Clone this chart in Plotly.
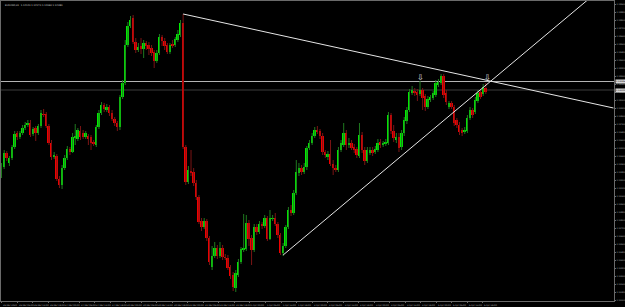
import plotly.graph_objects as go

opens = [1.1125,1.1133,1.1147,1.1137,1.1142,1.1153,1.1167,1.1163,1.1167,1.1172,
         1.1175,1.1177,1.1166,1.1172,1.1167,1.1174,1.1186,1.1186,1.1174,1.1157,
         1.1143,1.1144,1.1121,1.1115,1.1132,1.1142,1.1151,1.1148,1.1162,1.1161,
         1.1169,1.1167,1.1163,1.1164,1.1163,1.1158,1.1155,1.1173,1.1187,1.1195,
         1.1190,1.1193,1.1187,1.1181,1.1177,1.1173,1.1203,1.1217,1.1255,1.1274,
         1.1282,1.1258,1.1250,1.1254,1.1251,1.1257,1.1255,1.1252,1.1248,1.1239,
         1.1247,1.1263,1.1259,1.1255,1.1248,1.1256,1.1255,1.1260,1.1265,1.1277,
         1.1153,1.1118,1.1129,1.1128,1.1117,1.1103,1.1079,1.1073,1.1079,1.1062,
         1.1033,1.1044,1.1052,1.1044,1.1052,1.1043,1.1042,1.1033,1.1025,1.1012,
         1.1025,1.1038,1.1050,1.1051,1.1077,1.1062,1.1050,1.1073,1.1068,1.1076,
         1.1074,1.1082,1.1061,1.1081,1.1082,1.1076,1.1065,1.1047,1.1054,1.1073,
         1.1090,1.1087,1.1107,1.1127,1.1132,1.1128,1.1133,1.1152,1.1157,1.1164,
         1.1170,1.1169,1.1164,1.1148,1.1143,1.1146,1.1136,1.1132,1.1130,1.1150,
         1.1155,1.1167,1.1155,1.1157,1.1153,1.1151,1.1144,1.1165,1.1150,1.1139,
         1.1147,1.1150,1.1148,1.1150,1.1158,1.1155,1.1156,1.1157,1.1185,1.1169,
         1.1160,1.1163,1.1153,1.1167,1.1179,1.1190,1.1207,1.1209,1.1208,1.1206,
         1.1210,1.1204,1.1193,1.1200,1.1202,1.1205,1.1215,1.1217,1.1224,1.1207,
         1.1193,1.1197,1.1193,1.1180,1.1175,1.1170,1.1168,1.1169,1.1182,1.1190,
         1.1188,1.1199,1.1208,1.1206,1.1212]
highs = [1.1137,1.1150,1.1149,1.1144,1.1155,1.1169,1.1169,1.1169,1.1175,1.1178,
         1.1180,1.1180,1.1173,1.1174,1.1176,1.1190,1.1191,1.1188,1.1176,1.1160,
         1.1148,1.1146,1.1124,1.1135,1.1145,1.1154,1.1153,1.1167,1.1176,1.1172,
         1.1174,1.1170,1.1169,1.1166,1.1165,1.1160,1.1175,1.1190,1.1198,1.1197,
         1.1196,1.1195,1.1190,1.1183,1.1179,1.1205,1.1220,1.1260,1.1278,1.1284,
         1.1285,1.1262,1.1257,1.1262,1.1260,1.1259,1.1258,1.1255,1.1250,1.1250,
         1.1266,1.1265,1.1262,1.1257,1.1257,1.1260,1.1263,1.1270,1.1280,1.1286,
         1.1155,1.1134,1.1150,1.1132,1.1120,1.1105,1.1082,1.1082,1.1081,1.1064,
         1.1054,1.1058,1.1055,1.1058,1.1055,1.1046,1.1045,1.1035,1.1028,1.1030,
         1.1041,1.1053,1.1086,1.1085,1.1080,1.1065,1.1076,1.1076,1.1079,1.1078,
         1.1085,1.1084,1.1090,1.1085,1.1087,1.1078,1.1067,1.1057,1.1075,1.1093,
         1.1095,1.1110,1.1140,1.1137,1.1135,1.1137,1.1154,1.1160,1.1167,1.1173,
         1.1174,1.1171,1.1167,1.1150,1.1149,1.1160,1.1140,1.1135,1.1153,1.1160,
         1.1177,1.1170,1.1162,1.1160,1.1156,1.1153,1.1177,1.1168,1.1153,1.1153,
         1.1153,1.1153,1.1154,1.1161,1.1161,1.1159,1.1161,1.1188,1.1187,1.1175,
         1.1167,1.1167,1.1170,1.1183,1.1193,1.1211,1.1214,1.1212,1.1211,1.1219,
         1.1212,1.1206,1.1204,1.1205,1.1209,1.1220,1.1221,1.1226,1.1226,1.1210,
         1.1199,1.1199,1.1195,1.1182,1.1178,1.1172,1.1173,1.1185,1.1193,1.1192,
         1.1203,1.1210,1.1211,1.1216,1.1217]
lows = [1.1122,1.1131,1.1139,1.1134,1.1140,1.1151,1.1160,1.1161,1.1165,1.1170,
        1.1173,1.1163,1.1164,1.1159,1.1165,1.1172,1.1183,1.1172,1.1155,1.1140,
        1.1141,1.1119,1.1112,1.1111,1.1130,1.1140,1.1145,1.1147,1.1155,1.1159,
        1.1160,1.1161,1.1161,1.1155,1.1150,1.1154,1.1153,1.1171,1.1185,1.1188,
        1.1188,1.1184,1.1179,1.1174,1.1169,1.1170,1.1201,1.1215,1.1253,1.1272,
        1.1256,1.1247,1.1248,1.1246,1.1242,1.1250,1.1245,1.1244,1.1232,1.1237,
        1.1245,1.1254,1.1250,1.1246,1.1246,1.1252,1.1253,1.1258,1.1263,1.1151,
        1.1115,1.1116,1.1124,1.1114,1.1100,1.1076,1.1069,1.1071,1.1059,1.1035,
        1.1030,1.1042,1.1041,1.1042,1.1040,1.1040,1.1030,1.1021,1.1009,1.1008,
        1.1023,1.1036,1.1048,1.1049,1.1054,1.1035,1.1048,1.1065,1.1066,1.1071,
        1.1072,1.1059,1.1060,1.1079,1.1074,1.1062,1.1045,1.1044,1.1052,1.1071,
        1.1084,1.1085,1.1105,1.1124,1.1125,1.1126,1.1130,1.1150,1.1155,1.1162,
        1.1166,1.1161,1.1145,1.1142,1.1140,1.1134,1.1125,1.1128,1.1128,1.1148,
        1.1153,1.1150,1.1152,1.1150,1.1147,1.1142,1.1142,1.1147,1.1135,1.1137,
        1.1145,1.1144,1.1146,1.1148,1.1152,1.1153,1.1154,1.1155,1.1166,1.1158,
        1.1157,1.1148,1.1150,1.1164,1.1176,1.1188,1.1205,1.1204,1.1199,1.1204,
        1.1190,1.1189,1.1191,1.1198,1.1200,1.1203,1.1213,1.1215,1.1202,1.1195,
        1.1191,1.1191,1.1174,1.1172,1.1165,1.1164,1.1166,1.1167,1.1180,1.1182,
        1.1186,1.1197,1.1201,1.1204,1.1206]
closes = [1.1133,1.1147,1.1142,1.1142,1.1153,1.1166,1.1163,1.1167,1.1172,1.1175,
          1.1177,1.1165,1.1171,1.1167,1.1174,1.1187,1.1185,1.1174,1.1157,1.1143,
          1.1145,1.1121,1.1115,1.1132,1.1142,1.1151,1.1148,1.1163,1.1164,1.1170,
          1.1163,1.1163,1.1167,1.1161,1.1157,1.1156,1.1173,1.1187,1.1195,1.1191,
          1.1193,1.1187,1.1181,1.1177,1.1173,1.1203,1.1217,1.1255,1.1274,1.1280,
          1.1258,1.1250,1.1253,1.1251,1.1257,1.1254,1.1251,1.1247,1.1239,1.1247,
          1.1263,1.1259,1.1254,1.1248,1.1255,1.1254,1.1261,1.1266,1.1277,1.1153,
          1.1118,1.1130,1.1127,1.1117,1.1103,1.1078,1.1073,1.1079,1.1062,1.1038,
          1.1044,1.1052,1.1044,1.1052,1.1043,1.1042,1.1032,1.1024,1.1013,1.1027,
          1.1038,1.1051,1.1052,1.1077,1.1061,1.1050,1.1073,1.1068,1.1076,1.1074,
          1.1082,1.1061,1.1082,1.1082,1.1076,1.1065,1.1047,1.1054,1.1073,1.1090,
          1.1087,1.1107,1.1128,1.1132,1.1128,1.1133,1.1152,1.1157,1.1164,1.1170,
          1.1168,1.1164,1.1148,1.1145,1.1146,1.1136,1.1132,1.1130,1.1150,1.1157,
          1.1167,1.1155,1.1157,1.1152,1.1150,1.1145,1.1165,1.1150,1.1139,1.1150,
          1.1150,1.1147,1.1151,1.1157,1.1155,1.1157,1.1158,1.1185,1.1169,1.1162,
          1.1163,1.1152,1.1167,1.1180,1.1190,1.1208,1.1210,1.1207,1.1205,1.1210,
          1.1202,1.1193,1.1201,1.1203,1.1207,1.1217,1.1218,1.1224,1.1205,1.1198,
          1.1197,1.1193,1.1177,1.1175,1.1168,1.1167,1.1170,1.1182,1.1190,1.1185,
          1.1200,1.1207,1.1203,1.1213,1.1208]

time_labels = ["26 Mar 2020", "26 Mar 06:00", "26 Mar 12:00", "26 Mar 18:00",
               "27 Mar 00:00", "27 Mar 06:00", "27 Mar 12:00", "27 Mar 18:00",
               "30 Mar 00:00", "30 Mar 06:00", "30 Mar 12:00", "30 Mar 18:00",
               "31 Mar 00:00", "31 Mar 06:00", "31 Mar 12:00", "31 Mar 18:00",
               "1 Apr 00:00", "1 Apr 06:00", "1 Apr 12:00", "1 Apr 18:00",
               "2 Apr 00:00", "2 Apr 06:00", "2 Apr 12:00", "2 Apr 18:00",
               "3 Apr 00:00", "3 Apr 06:00", "3 Apr 12:00", "3 Apr 18:00",
               "6 Apr 00:00", "6 Apr 06:00", "6 Apr 12:00", "6 Apr 18:00"]

price_labels = ["1.12960", "1.12880", "1.12800", "1.12720", "1.12640", "1.12560",
                "1.12480", "1.12400", "1.12320", "1.12240", "1.12160", "1.12080",
                "1.12000", "1.11920", "1.11840", "1.11760", "1.11680", "1.11600",
                "1.11520", "1.11440", "1.11360", "1.11280", "1.11200", "1.11120",
                "1.11040", "1.10960", "1.10880", "1.10800", "1.10720", "1.10640",
                "1.10560", "1.10480", "1.10400", "1.10320", "1.10240", "1.10160",
                "1.10080", "1.10000"]

# horizontal price lines (object line, ask line)
hline_prices = [1.12185, 1.12100]
hline_colors = ["#b4b4b4", "#3c3c3c"]
# trend lines: two anchor points each (bar index, price)
trend1_x = [69, 232.5]
trend1_y = [1.1286, 1.1192]
trend2_x = [107, 235]
trend2_y = [1.1045, 1.13272]
# arrow objects
arrow_x = [159, 184.7]
arrow_y = [1.1223, 1.1223]

n = len(opens)
idx = list(range(n))

fig = go.Figure()

# wicks
for up, col in ((True, "#1f7a1f"), (False, "#7a1414")):
    wx, wy = [], []
    for i in idx:
        if (closes[i] >= opens[i]) == up:
            wx += [i, i, None]
            wy += [lows[i], highs[i], None]
    fig.add_trace(go.Scatter(x=wx, y=wy, mode="lines",
                             line=dict(color=col, width=1),
                             hoverinfo="skip", showlegend=False))

# bodies
bases = [min(o, c) for o, c in zip(opens, closes)]
heights = [max(abs(c - o), 0.00005) for o, c in zip(opens, closes)]
cols = ["#00ec00" if c >= o else "#f00000" for o, c in zip(opens, closes)]
fig.add_trace(go.Bar(x=idx, y=heights, base=bases, width=0.72,
                     marker=dict(color=cols, line=dict(width=0)),
                     showlegend=False, hoverinfo="skip"))

# trend lines
for tx, ty in ((trend1_x, trend1_y), (trend2_x, trend2_y)):
    fig.add_trace(go.Scatter(x=tx, y=ty, mode="lines",
                             line=dict(color="#e6e6e6", width=1),
                             hoverinfo="skip", showlegend=False))

shapes = []
for p, c in zip(hline_prices, hline_colors):
    shapes.append(dict(type="line", xref="paper", x0=0, x1=1, yref="y",
                       y0=p, y1=p, line=dict(color=c, width=1), layer="below"))

annotations = []
for ax_, ay_ in zip(arrow_x, arrow_y):
    annotations.append(dict(x=ax_, y=ay_, text="⇩", showarrow=False,
                            font=dict(size=8, color="#e8e8e8",
                                      family="DejaVu Sans")))
for p in hline_prices:
    annotations.append(dict(xref="paper", x=1.0, xanchor="left", xshift=1,
                            y=p, yref="y", text=f"{p:.5f}", showarrow=False,
                            bgcolor="#d8d8d8", borderpad=0,
                            font=dict(size=2.2, color="#000000",
                                      family="DejaVu Sans")))
annotations.append(dict(xref="paper", yref="paper", x=0.003, y=0.998,
                        xanchor="left", yanchor="top", showarrow=False,
                        text="EURUSD,H1  1.12120 1.12170 1.12060 1.12080",
                        font=dict(size=2.4, color="#c8c8c8",
                                  family="DejaVu Sans")))

tick_pos = [k * 5.9 for k in range(len(time_labels))]
# time labels, left-aligned just right of each tick, below the plot frame
for tp, tl in zip(tick_pos, time_labels):
    annotations.append(dict(x=tp, xref="x", xanchor="left", xshift=0.5,
                            y=0, yref="paper", yanchor="top", yshift=-1.5,
                            text=tl, showarrow=False, borderpad=0,
                            font=dict(size=2.2, color="#b0b0b0",
                                      family="DejaVu Sans")))

fig.update_layout(
    width=625, height=307,
    margin=dict(l=1, r=11, t=1, b=6),
    paper_bgcolor="#000000", plot_bgcolor="#000000",
    bargap=0, showlegend=False,
    shapes=shapes, annotations=annotations,
    xaxis=dict(range=[-0.2, 232.7], showgrid=False, zeroline=False,
               showline=True, linecolor="#6a6a6a", linewidth=1, mirror=True,
               tickvals=tick_pos, showticklabels=False,
               ticks="outside", ticklen=1, tickcolor="#6a6a6a",
               automargin=False, fixedrange=True),
    yaxis=dict(range=[1.0999, 1.1299], side="right", showgrid=False,
               zeroline=False, showline=True, linecolor="#6a6a6a",
               linewidth=1, mirror=True,
               tickvals=[float(s) for s in price_labels], ticktext=price_labels,
               ticks="outside", ticklen=1, tickcolor="#6a6a6a",
               tickfont=dict(size=2.1, color="#b0b0b0", family="DejaVu Sans"),
               automargin=False, fixedrange=True),
)

fig.write_html("out.html")
